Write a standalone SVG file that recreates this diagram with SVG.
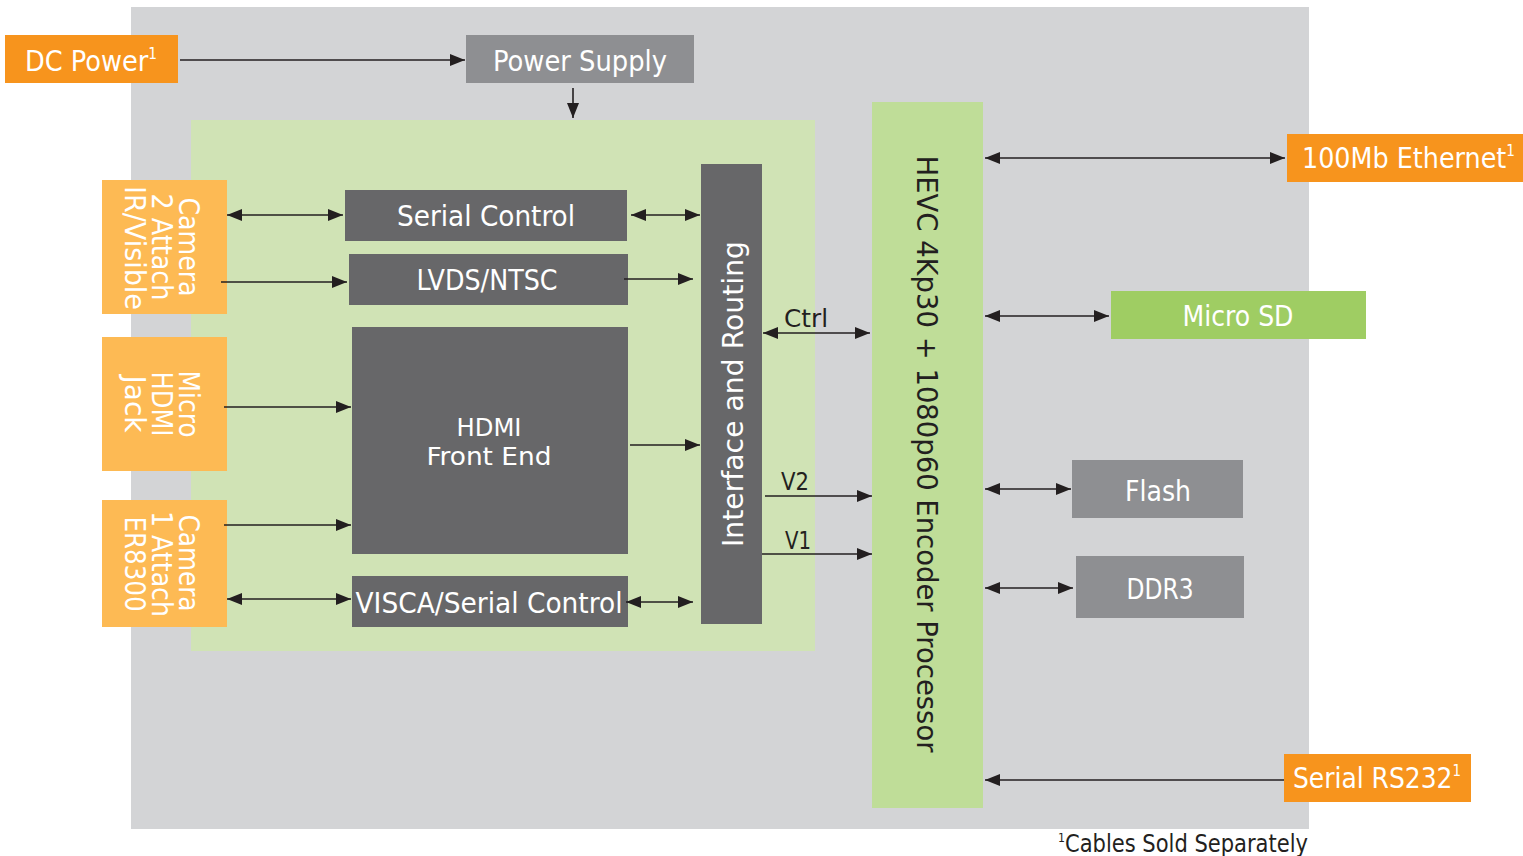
<svg xmlns="http://www.w3.org/2000/svg" width="1523" height="856" viewBox="0 0 1523 856">
<style>
.lbl{font-family:"DejaVu Sans Condensed","DejaVu Sans","Liberation Sans Narrow",sans-serif;font-stretch:condensed;font-size:28px;fill:#ffffff}
.dk{font-family:"DejaVu Sans Condensed","DejaVu Sans",sans-serif;font-stretch:condensed;font-size:25px;fill:#231f20}
.rot{font-family:"DejaVu Sans",sans-serif;font-size:28px}
.ln{stroke:#231f20;stroke-width:1.6;fill:none}
</style>
<defs>
<marker id="ah" markerUnits="userSpaceOnUse" markerWidth="16" markerHeight="14" refX="15" refY="7" orient="auto-start-reverse" viewBox="0 0 16 14">
<path d="M0,1 L15,7 L0,13 Z" fill="#231f20"/>
</marker>
</defs>
<rect id="bg" x="131" y="7" width="1178" height="822" fill="#d3d4d6"/>
<rect id="inner" x="191" y="120" width="624" height="531" fill="#d0e3b5"/>
<g id="dc-power"><rect x="5" y="35" width="173" height="48" fill="#f7941d"/><text class="lbl" x="25" y="71" textLength="132" lengthAdjust="spacingAndGlyphs">DC Power<tspan font-size="15" dy="-12">1</tspan></text></g>
<g id="power-supply"><rect x="466" y="35" width="228" height="48" fill="#8e8f92"/><text class="lbl" x="580" y="71" text-anchor="middle" textLength="174" lengthAdjust="spacingAndGlyphs">Power Supply</text></g>
<g id="camera2"><rect x="102" y="180" width="125" height="134" fill="#fdba54"/>
<text class="lbl" transform="translate(179,247) rotate(90)" text-anchor="middle" textLength="99" lengthAdjust="spacingAndGlyphs">Camera</text>
<text class="lbl" transform="translate(152,247) rotate(90)" text-anchor="middle" textLength="107" lengthAdjust="spacingAndGlyphs">2 Attach</text>
<text class="lbl" transform="translate(125,248) rotate(90)" text-anchor="middle" textLength="124" lengthAdjust="spacingAndGlyphs">IR/Visible</text></g>
<g id="micro-hdmi"><rect x="102" y="337" width="125" height="134" fill="#fdba54"/>
<text class="lbl" transform="translate(179,404) rotate(90)" text-anchor="middle" textLength="67" lengthAdjust="spacingAndGlyphs">Micro</text>
<text class="lbl" transform="translate(152,404) rotate(90)" text-anchor="middle" textLength="65" lengthAdjust="spacingAndGlyphs">HDMI</text>
<text class="lbl" transform="translate(125,404) rotate(90)" text-anchor="middle" textLength="57" lengthAdjust="spacingAndGlyphs">Jack</text></g>
<g id="camera1"><rect x="102" y="500" width="125" height="127" fill="#fdba54"/>
<text class="lbl" transform="translate(179,563) rotate(90)" text-anchor="middle" textLength="97" lengthAdjust="spacingAndGlyphs">Camera</text>
<text class="lbl" transform="translate(152,564) rotate(90)" text-anchor="middle" textLength="106" lengthAdjust="spacingAndGlyphs">1 Attach</text>
<text class="lbl" transform="translate(125,564) rotate(90)" text-anchor="middle" textLength="95" lengthAdjust="spacingAndGlyphs">ER8300</text></g>
<g id="serial-control"><rect x="345" y="190" width="282" height="51" fill="#676769"/><text class="lbl" x="486" y="226" text-anchor="middle" textLength="178" lengthAdjust="spacingAndGlyphs">Serial Control</text></g>
<g id="lvds"><rect x="349" y="254" width="279" height="51" fill="#676769"/><text class="lbl" x="487" y="290" text-anchor="middle" textLength="141" lengthAdjust="spacingAndGlyphs">LVDS/NTSC</text></g>
<g id="hdmi-fe"><rect x="352" y="327" width="276" height="227" fill="#676769"/><text class="lbl" font-size="24" style="font-size:24px" x="489" y="436" text-anchor="middle" textLength="65" lengthAdjust="spacingAndGlyphs">HDMI</text><text class="lbl" style="font-size:24px" x="489" y="465" text-anchor="middle" textLength="125" lengthAdjust="spacingAndGlyphs">Front End</text></g>
<g id="visca"><rect x="352" y="576" width="276" height="51" fill="#676769"/><text class="lbl" x="489" y="613" text-anchor="middle" textLength="267" lengthAdjust="spacingAndGlyphs">VISCA/Serial Control</text></g>
<g id="interface"><rect x="701" y="164" width="61" height="460" fill="#676769"/><text class="rot" fill="#ffffff" transform="translate(743,394) rotate(-90)" text-anchor="middle" textLength="306" lengthAdjust="spacingAndGlyphs">Interface and Routing</text></g>
<g id="hevc"><rect x="872" y="102" width="111" height="706" fill="#bfdd98"/><text class="rot" fill="#231f20" transform="translate(917,454) rotate(90)" text-anchor="middle" textLength="597" lengthAdjust="spacingAndGlyphs">HEVC 4Kp30 + 1080p60 Encoder Processor</text></g>
<g id="ethernet"><rect x="1287" y="134" width="236" height="48" fill="#f7941d"/><text class="lbl" x="1302" y="168" textLength="213" lengthAdjust="spacingAndGlyphs">100Mb Ethernet<tspan font-size="15" dy="-12">1</tspan></text></g>
<g id="microsd"><rect x="1111" y="291" width="255" height="48" fill="#9fcd63"/><text class="lbl" x="1238" y="326" text-anchor="middle" textLength="111" lengthAdjust="spacingAndGlyphs">Micro SD</text></g>
<g id="flash"><rect x="1072" y="460" width="171" height="58" fill="#8e8f92"/><text class="lbl" x="1158" y="501" text-anchor="middle" textLength="66" lengthAdjust="spacingAndGlyphs">Flash</text></g>
<g id="ddr3"><rect x="1076" y="556" width="168" height="62" fill="#8e8f92"/><text class="lbl" x="1160" y="599" text-anchor="middle" textLength="67" lengthAdjust="spacingAndGlyphs">DDR3</text></g>
<g id="rs232"><rect x="1284" y="754" width="187" height="48" fill="#f7941d"/><text class="lbl" x="1293" y="788" textLength="168" lengthAdjust="spacingAndGlyphs">Serial RS232<tspan font-size="15" dy="-12">1</tspan></text></g>
<g id="connectors">
<line class="ln" x1="180" y1="60" x2="465" y2="60" marker-end="url(#ah)"/>
<line class="ln" x1="573" y1="88" x2="573" y2="118" marker-end="url(#ah)"/>
<line class="ln" x1="227" y1="215" x2="343" y2="215" marker-start="url(#ah)" marker-end="url(#ah)"/>
<line class="ln" x1="221" y1="282" x2="347" y2="282" marker-end="url(#ah)"/>
<line class="ln" x1="224" y1="407" x2="351" y2="407" marker-end="url(#ah)"/>
<line class="ln" x1="224" y1="525" x2="351" y2="525" marker-end="url(#ah)"/>
<line class="ln" x1="227" y1="599" x2="351" y2="599" marker-start="url(#ah)" marker-end="url(#ah)"/>
<line class="ln" x1="631" y1="215" x2="700" y2="215" marker-start="url(#ah)" marker-end="url(#ah)"/>
<line class="ln" x1="624" y1="279" x2="693" y2="279" marker-end="url(#ah)"/>
<line class="ln" x1="630" y1="445" x2="700" y2="445" marker-end="url(#ah)"/>
<line class="ln" x1="626" y1="602" x2="693" y2="602" marker-start="url(#ah)" marker-end="url(#ah)"/>
<line class="ln" x1="763" y1="333" x2="870" y2="333" marker-start="url(#ah)" marker-end="url(#ah)"/>
<line class="ln" x1="765" y1="496" x2="872" y2="496" marker-end="url(#ah)"/>
<line class="ln" x1="762" y1="554" x2="872" y2="554" marker-end="url(#ah)"/>
<line class="ln" x1="985" y1="158" x2="1285" y2="158" marker-start="url(#ah)" marker-end="url(#ah)"/>
<line class="ln" x1="985" y1="316" x2="1109" y2="316" marker-start="url(#ah)" marker-end="url(#ah)"/>
<line class="ln" x1="985" y1="489" x2="1071" y2="489" marker-start="url(#ah)" marker-end="url(#ah)"/>
<line class="ln" x1="985" y1="588" x2="1073" y2="588" marker-start="url(#ah)" marker-end="url(#ah)"/>
<line class="ln" x1="1284" y1="780" x2="985" y2="780" marker-end="url(#ah)"/>
<text class="dk" x="784" y="327" textLength="44" lengthAdjust="spacingAndGlyphs">Ctrl</text>
<text class="dk" x="781" y="490" textLength="28" lengthAdjust="spacingAndGlyphs">V2</text>
<text class="dk" x="785" y="549" textLength="26" lengthAdjust="spacingAndGlyphs">V1</text>
</g>
<text id="footnote" class="dk" x="1058" y="852" textLength="250" lengthAdjust="spacingAndGlyphs"><tspan font-size="13" dy="-10">1</tspan><tspan dy="10">Cables Sold Separately</tspan></text>
</svg>
